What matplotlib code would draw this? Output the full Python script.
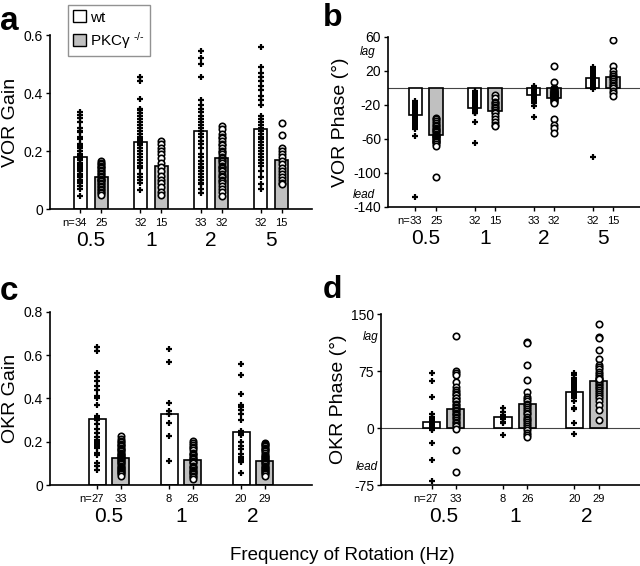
#!/usr/bin/env python3

import numpy as np
import matplotlib
matplotlib.use("Agg")
import matplotlib.pyplot as plt
from matplotlib.patches import Patch

plt.rcParams['font.family'] = ['Liberation Sans', 'DejaVu Sans']
plt.rcParams['mathtext.fontset'] = 'custom'
plt.rcParams['mathtext.rm'] = 'Liberation Sans'
plt.rcParams['mathtext.default'] = 'regular'

# frequency groups
vor_freqs = ['0.5', '1', '2', '5']
okr_freqs = ['0.5', '1', '2']

# n per bar
vg_n_wt = [34, 32, 33, 32]
vg_n_pk = [25, 15, 32, 15]
vp_n_wt = [33, 32, 33, 32]
vp_n_pk = [25, 15, 32, 15]
ok_n_wt = [27, 8, 20]
ok_n_pk = [33, 26, 29]

# bar heights (means)
vg_wt = [0.18, 0.23, 0.268, 0.275]
vg_pk = [0.11, 0.15, 0.175, 0.168]
vp_wt = [-32, -23, -8, 12]
vp_pk = [-55, -27, -12, 13]
og_wt = [0.305, 0.33, 0.245]
og_pk = [0.125, 0.115, 0.11]
op_wt = [8, 15, 48]
op_pk = [25, 32, 62]

# individual animals - VOR gain
vg_wt_pts = [
    [0.335,0.325,0.315,0.30,0.28,0.27,0.265,0.25,0.24,0.225,0.22,0.215,0.21,0.20,0.19,0.185,0.18,
     0.175,0.17,0.16,0.155,0.15,0.14,0.135,0.13,0.12,0.115,0.11,0.10,0.095,0.09,0.08,0.07,0.045],
    [0.455,0.44,0.38,0.345,0.34,0.33,0.32,0.31,0.30,0.29,0.28,0.27,0.26,0.25,0.24,0.235,0.23,0.225,
     0.22,0.21,0.20,0.19,0.18,0.17,0.16,0.15,0.14,0.12,0.11,0.10,0.09,0.065],
    [0.545,0.52,0.50,0.455,0.375,0.36,0.345,0.335,0.32,0.31,0.30,0.29,0.28,0.27,0.26,0.25,0.235,
     0.225,0.21,0.19,0.18,0.165,0.155,0.145,0.14,0.13,0.12,0.11,0.10,0.09,0.085,0.07,0.055],
    [0.56,0.49,0.47,0.455,0.44,0.425,0.41,0.39,0.375,0.36,0.32,0.31,0.30,0.29,0.28,0.27,0.26,0.25,
     0.24,0.23,0.22,0.21,0.20,0.19,0.18,0.17,0.16,0.15,0.13,0.11,0.085,0.07],
]
vg_pk_pts = [
    [0.165,0.16,0.155,0.15,0.145,0.14,0.135,0.13,0.125,0.12,0.115,0.11,0.105,0.10,0.10,0.095,0.09,
     0.085,0.08,0.075,0.07,0.065,0.06,0.055,0.05],
    [0.235,0.225,0.21,0.20,0.19,0.175,0.16,0.145,0.13,0.115,0.10,0.09,0.075,0.06,0.05],
    [0.285,0.275,0.26,0.25,0.245,0.235,0.225,0.22,0.21,0.20,0.195,0.19,0.18,0.175,0.17,0.165,0.16,
     0.15,0.145,0.14,0.135,0.13,0.12,0.115,0.11,0.10,0.095,0.09,0.08,0.07,0.06,0.045],
    [0.295,0.255,0.21,0.20,0.19,0.18,0.165,0.155,0.14,0.13,0.12,0.11,0.10,0.09,0.085],
]

# VOR phase
vp_wt_pts = [
    [-15,-18,-20,-21,-22,-23,-24,-25,-26,-27,-27,-28,-29,-30,-31,-32,-33,-33,-34,-35,-36,-37,-38,
     -39,-40,-41,-42,-43,-44,-46,-48,-57,-128],
    [-3,-5,-6,-7,-8,-9,-10,-11,-12,-12,-13,-14,-15,-15,-16,-17,-18,-18,-19,-20,-21,-22,-23,-24,
     -25,-26,-27,-28,-29,-30,-40,-65],
    [2,1,0,-1,-2,-3,-3,-4,-5,-5,-6,-6,-7,-7,-8,-8,-9,-9,-10,-10,-11,-11,-12,-12,-13,-13,-14,-15,
     -16,-17,-18,-21,-34],
    [25,22,20,19,18,17,16,15,15,14,14,13,13,12,12,11,11,10,10,9,9,8,8,7,6,5,4,3,2,1,-1,-81],
]
vp_pk_pts = [
    [-35,-37,-39,-41,-43,-45,-47,-48,-50,-51,-52,-54,-55,-56,-57,-58,-59,-60,-61,-62,-63,-64,-66,
     -68,-105],
    [-8,-12,-16,-18,-20,-22,-24,-26,-28,-30,-33,-36,-40,-43,-45],
    [26,7,0,-1,-2,-3,-4,-5,-5,-6,-6,-7,-7,-8,-8,-9,-9,-10,-10,-11,-11,-12,-12,-13,-14,-15,-16,-18,
     -36,-43,-47,-53],
    [56,26,20,17,14,12,10,8,6,4,2,0,-3,-6,-10],
]

# OKR gain
og_wt_pts = [
    [0.64,0.62,0.52,0.50,0.48,0.46,0.44,0.41,0.40,0.37,0.32,0.31,0.30,0.28,0.26,0.24,0.22,0.21,
     0.20,0.19,0.18,0.17,0.15,0.14,0.10,0.09,0.07],
    [0.63,0.57,0.38,0.34,0.33,0.285,0.225,0.11],
    [0.56,0.51,0.42,0.37,0.36,0.345,0.33,0.30,0.25,0.24,0.23,0.20,0.18,0.165,0.145,0.13,0.12,0.11,
     0.105,0.055],
]
og_pk_pts = [
    [0.225,0.215,0.205,0.20,0.19,0.185,0.18,0.17,0.165,0.16,0.155,0.15,0.145,0.14,0.135,0.13,0.125,
     0.12,0.115,0.11,0.105,0.10,0.095,0.09,0.085,0.08,0.075,0.07,0.065,0.06,0.055,0.05,0.04],
    [0.205,0.195,0.185,0.175,0.17,0.16,0.15,0.145,0.14,0.13,0.125,0.12,0.11,0.105,0.10,0.09,0.085,
     0.08,0.07,0.065,0.06,0.055,0.05,0.04,0.035,0.03],
    [0.195,0.19,0.185,0.18,0.17,0.165,0.16,0.155,0.15,0.14,0.135,0.13,0.125,0.12,0.115,0.11,0.105,
     0.10,0.095,0.09,0.085,0.08,0.075,0.07,0.065,0.06,0.055,0.05,0.04],
]

# OKR phase
op_wt_pts = [
    [73,62,41,18,15,13,12,11,10,9,8,7,7,6,5,5,4,3,3,2,1,0,-1,-2,-20,-42,-70],
    [26,21,17,15,12,8,6,-9],
    [73,70,66,63,60,58,55,53,51,50,48,46,44,42,39,35,26,25,6,-8],
]
op_pk_pts = [
    [121,75,72,70,61,54,50,48,45,43,40,39,36,35,32,30,28,26,24,22,20,18,17,15,13,10,8,6,4,2,-1,-29,-58],
    [113,112,83,63,47,41,38,35,32,30,28,25,22,20,18,15,12,10,8,5,2,0,-3,-6,-9,-12],
    [137,120,118,102,91,83,80,77,74,71,68,66,64,62,60,58,56,54,52,50,47,45,42,40,35,30,24,10,65],
]

GREY = '#c0c0c0'


def panel(ax, freqs, wt, pk, wt_pts, pk_pts, n_wt, n_pk, off, bw, xlim, ylim, yticks,
          ylabel, zero=False, lag=None, lead=None, lagx=-0.05):
    x = np.arange(len(freqs))
    xw = x - off
    xp = x + off
    ax.bar(xw, wt, bw, color='white', edgecolor='black', linewidth=1.2, zorder=2)
    ax.bar(xp, pk, bw, color=GREY, edgecolor='black', linewidth=1.2, zorder=2)
    for i in range(len(freqs)):
        ax.plot([xw[i]] * len(wt_pts[i]), wt_pts[i], ls='none', marker='+', ms=5,
                mew=1.6, color='black', zorder=3)
        ax.plot([xp[i]] * len(pk_pts[i]), pk_pts[i], ls='none', marker='o', ms=4.6,
                mew=1.2, mfc='white', mec='black', zorder=3)
    if zero:
        ax.axhline(0, color='#444444', lw=0.8, zorder=1)
    ax.set_xlim(*xlim)
    ax.set_ylim(*ylim)
    ax.set_yticks(yticks)
    ax.set_yticklabels([('%g' % t) for t in yticks], fontsize=10)
    ax.set_xticks(np.concatenate([xw, xp]))
    ax.set_xticklabels([])
    ax.tick_params(axis='y', direction='out', length=3, width=1, pad=2)
    ax.tick_params(axis='x', direction='out', length=3, width=1)
    for s in ['top', 'right']:
        ax.spines[s].set_visible(False)
    for s in ['left', 'bottom']:
        ax.spines[s].set_linewidth(1.2)
    ax.set_ylabel(ylabel, fontsize=14, labelpad=3)
    tr = ax.get_xaxis_transform()
    for i in range(len(freqs)):
        ax.annotate(str(n_wt[i]), (xw[i], 0), xycoords=tr, xytext=(0, -10),
                    textcoords='offset points', ha='center', va='center', fontsize=8)
        ax.annotate(str(n_pk[i]), (xp[i], 0), xycoords=tr, xytext=(0, -10),
                    textcoords='offset points', ha='center', va='center', fontsize=8)
        ax.annotate(freqs[i], (x[i], 0), xycoords=tr, xytext=(0, -23),
                    textcoords='offset points', ha='center', va='center', fontsize=15)
    ax.annotate('n=', (xw[0], 0), xycoords=tr, xytext=(-4, -10),
                textcoords='offset points', ha='right', va='center', fontsize=8)
    if lag is not None:
        yt = ax.get_yaxis_transform()
        ax.text(lagx, lag, 'lag', transform=yt, ha='right', va='center',
                fontsize=8.5, style='italic')
        ax.text(lagx, lead, 'lead', transform=yt, ha='right', va='center',
                fontsize=8.5, style='italic')


fig = plt.figure(figsize=(6.4, 5.66), dpi=100)

ax_a = fig.add_axes([0.0781, 0.6307, 0.4094, 0.3074])
panel(ax_a, vor_freqs, vg_wt, vg_pk, vg_wt_pts, vg_pk_pts, vg_n_wt, vg_n_pk,
      0.175, 0.22, (-0.68, 3.68), (0, 0.6), [0, 0.2, 0.4, 0.6], 'VOR Gain')

ax_b = fig.add_axes([0.6063, 0.6343, 0.3938, 0.3004])
panel(ax_b, vor_freqs, vp_wt, vp_pk, vp_wt_pts, vp_pk_pts, vp_n_wt, vp_n_pk,
      0.175, 0.23, (-0.64, 3.63), (-140, 60), [-140, -100, -60, -20, 20, 60],
      'VOR Phase (°)', zero=True, lag=42, lead=-126, lagx=-0.05)

ax_c = fig.add_axes([0.0781, 0.1431, 0.4094, 0.3057])
panel(ax_c, okr_freqs, og_wt, og_pk, og_wt_pts, og_pk_pts, ok_n_wt, ok_n_pk,
      0.165, 0.235, (-0.82, 2.82), (0, 0.8), [0, 0.2, 0.4, 0.6, 0.8], 'OKR Gain')

ax_d = fig.add_axes([0.5953, 0.1431, 0.4047, 0.3021])
panel(ax_d, okr_freqs, op_wt, op_pk, op_wt_pts, op_pk_pts, ok_n_wt, ok_n_pk,
      0.17, 0.24, (-0.88, 2.75), (-75, 150), [-75, 0, 75, 150],
      'OKR Phase (°)', zero=True, lag=120, lead=-51, lagx=-0.01)

# legend
handles = [Patch(facecolor='white', edgecolor='black', lw=1.0, label='wt'),
           Patch(facecolor=GREY, edgecolor='black', lw=1.0,
                 label='PKCγ $^{\u2010/\u2010}$')]
leg = fig.legend(handles=handles, loc='upper left', bbox_to_anchor=(68 / 640, 1 - 5 / 566),
                 fontsize=11, frameon=True, fancybox=False, edgecolor='#777777',
                 handlelength=0.8, handleheight=0.8, handletextpad=0.3, borderpad=0.35,
                 labelspacing=0.35, borderaxespad=0)
leg.get_frame().set_linewidth(1.0)

# panel letters
fig.text(0 / 640, 1 - 30 / 566, 'a', fontsize=24, fontweight='bold', va='baseline')
fig.text(323 / 640, 1 - 26 / 566, 'b', fontsize=23, fontweight='bold', va='baseline')
fig.text(0 / 640, 1 - 300 / 566, 'c', fontsize=24, fontweight='bold', va='baseline')
fig.text(323 / 640, 1 - 298 / 566, 'd', fontsize=23, fontweight='bold', va='baseline')

fig.text(342 / 640, 1 - 555 / 566, 'Frequency of Rotation (Hz)', fontsize=13.5,
         ha='center', va='center')

fig.savefig('out.png', dpi=100)
print("That's all folks.")
